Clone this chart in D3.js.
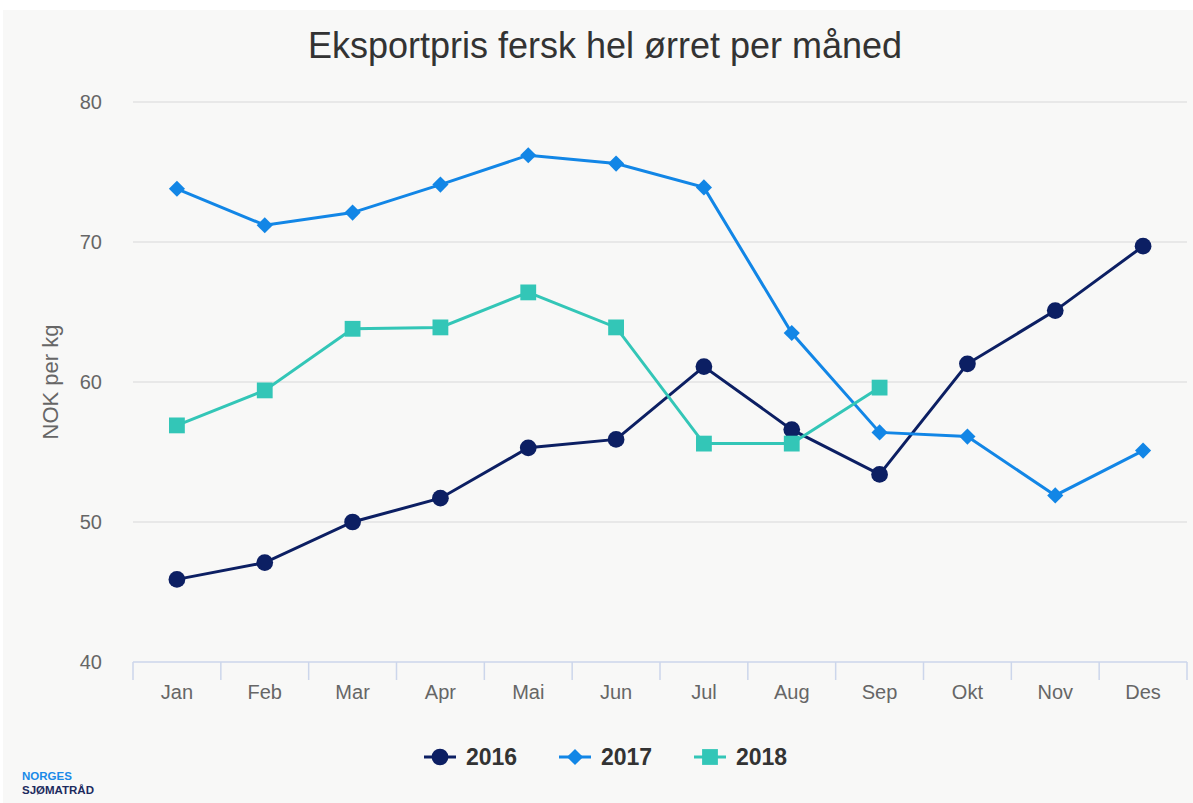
<!DOCTYPE html>
<html>
<head>
<meta charset="utf-8">
<script src="https://cdn.jsdelivr.net/npm/d3@7"></script>
<style>
  body { margin: 0; background: #fff; }
  svg { display: block; font-family: "Liberation Sans", Arial, sans-serif; }
</style>
</head>
<body>
<svg width="1193" height="803"></svg>
<script>
var months = ["Jan", "Feb", "Mar", "Apr", "Mai", "Jun", "Jul", "Aug", "Sep", "Okt", "Nov", "Des"]
var yTicks = [40, 50, 60, 70, 80]
var v2016 = [45.9, 47.1, 50.0, 51.7, 55.3, 55.9, 61.1, 56.6, 53.4, 61.3, 65.1, 69.7]
var v2017 = [73.8, 71.2, 72.1, 74.1, 76.2, 75.6, 73.9, 63.5, 56.4, 56.1, 51.9, 55.1]
var v2018 = [56.9, 59.4, 63.8, 63.9, 66.4, 63.9, 55.6, 55.6, 59.6]

// square diamond (rotated square)
var symbolRhomb = {
  draw: function(ctx, size) {
    var r = Math.sqrt(size / 2)
    ctx.moveTo(0, -r); ctx.lineTo(r, 0); ctx.lineTo(0, r); ctx.lineTo(-r, 0); ctx.closePath()
  }
}

var series = [
  {name: "2016", values: v2016, color: "#0c1f63", symbol: d3.symbolCircle, size: 220},
  {name: "2017", values: v2017, color: "#1286e6", symbol: symbolRhomb, size: 130},
  {name: "2018", values: v2018, color: "#33c6b7", symbol: d3.symbolSquare, size: 250}
]

var svg = d3.select("svg"),
    margin = {top: 102, right: 6, bottom: 141, left: 133},
    width = 1193 - margin.left - margin.right,
    height = 803 - margin.top - margin.bottom

// panel background
svg.append("rect").attr("x", 3).attr("y", 10).attr("width", 1190).attr("height", 793).attr("fill", "#f8f8f7")

svg.append("text")
  .attr("x", 605).attr("y", 58)
  .attr("text-anchor", "middle")
  .attr("font-size", 36)
  .attr("fill", "#333")
  .text("Eksportpris fersk hel ørret per måned")

var g = svg.append("g").attr("transform", "translate(" + margin.left + "," + margin.top + ")")

var x = d3.scaleBand().domain(months).range([0, width])
var y = d3.scaleLinear().domain([40, 80]).range([height, 0])

// grid
g.selectAll(".grid").data(yTicks.slice(1)).enter().append("line")
  .attr("x1", 0).attr("x2", width)
  .attr("y1", function(d) { return y(d) }).attr("y2", function(d) { return y(d) })
  .attr("stroke", "#e3e3e3").attr("stroke-width", 1.5)

// y labels
g.selectAll(".ylab").data(yTicks).enter().append("text")
  .attr("x", -31).attr("y", function(d) { return y(d) + 7 })
  .attr("text-anchor", "end")
  .attr("font-size", 20)
  .attr("fill", "#666")
  .text(function(d) { return d })

svg.append("text")
  .attr("transform", "translate(58," + (margin.top + height / 2) + ") rotate(-90)")
  .attr("text-anchor", "middle")
  .attr("font-size", 22)
  .attr("fill", "#666")
  .text("NOK per kg")

// x axis
var xAxis = g.append("g").attr("transform", "translate(0," + height + ")")
xAxis.append("line").attr("x1", 0).attr("x2", width).attr("stroke", "#ccd6eb").attr("stroke-width", 1.5)
xAxis.selectAll(".tick").data(months.concat(["end"])).enter().append("line")
  .attr("x1", function(d, i) { return i * x.step() }).attr("x2", function(d, i) { return i * x.step() })
  .attr("y1", 0).attr("y2", 18)
  .attr("stroke", "#ccd6eb").attr("stroke-width", 1.5)
xAxis.selectAll(".xlab").data(months).enter().append("text")
  .attr("x", function(d) { return x(d) + x.bandwidth() / 2 })
  .attr("y", 37)
  .attr("text-anchor", "middle")
  .attr("font-size", 20)
  .attr("fill", "#666")
  .text(function(d) { return d })

var line = d3.line()
  .x(function(d, i) { return x(months[i]) + x.bandwidth() / 2 })
  .y(function(d) { return y(d) })

series.forEach(function(s) {
  g.append("path")
    .datum(s.values)
    .attr("fill", "none")
    .attr("stroke", s.color)
    .attr("stroke-width", 3)
    .attr("d", line)
  g.selectAll(null).data(s.values).enter().append("path")
    .attr("transform", function(d, i) { return "translate(" + (x(months[i]) + x.bandwidth() / 2) + "," + y(d) + ")" })
    .attr("d", d3.symbol().type(s.symbol).size(s.size))
    .attr("fill", s.color)
})

// legend
var legendX = [424, 559, 694]
var legend = svg.selectAll(".legend").data(series).enter().append("g")
  .attr("transform", function(d, i) { return "translate(" + legendX[i] + ",757)" })
legend.append("line").attr("x1", 0).attr("x2", 32)
  .attr("stroke", function(d) { return d.color }).attr("stroke-width", 3)
legend.append("path")
  .attr("transform", "translate(16,0)")
  .attr("d", function(d) { return d3.symbol().type(d.symbol).size(d.size)() })
  .attr("fill", function(d) { return d.color })
legend.append("text")
  .attr("x", 42).attr("y", 8)
  .attr("font-size", 23).attr("font-weight", "bold")
  .attr("fill", "#333")
  .text(function(d) { return d.name })

// logo
svg.append("text").attr("x", 22).attr("y", 780)
  .attr("font-size", 11.5).attr("font-weight", "bold").attr("fill", "#1a8ae8")
  .text("NORGES")
svg.append("text").attr("x", 22).attr("y", 794)
  .attr("font-size", 11.5).attr("font-weight", "bold").attr("fill", "#1c2a5e")
  .text("SJØMATRÅD")
</script>
</body>
</html>
